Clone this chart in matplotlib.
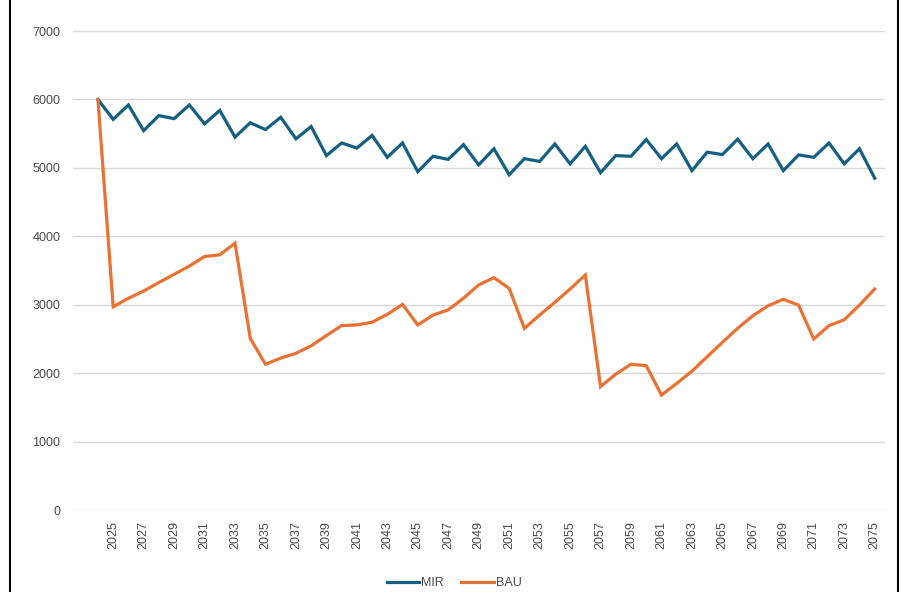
import numpy as np
import matplotlib.pyplot as plt
from matplotlib.lines import Line2D

years = np.arange(2024, 2076)

mir = [6000, 5710, 5920, 5545, 5765, 5720, 5920, 5645, 5840, 5450,
       5660, 5560, 5740, 5425, 5605, 5180, 5365, 5290, 5475, 5155,
       5365, 4945, 5170, 5125, 5340, 5045, 5280, 4900, 5135, 5095,
       5350, 5060, 5315, 4930, 5180, 5170, 5415, 5135, 5350, 4960,
       5230, 5195, 5420, 5135, 5350, 4960, 5190, 5155, 5365, 5060,
       5280, 4850]

bau = [6000, 2970, 3095, 3200, 3325, 3445, 3565, 3705, 3730, 3900,
       2510, 2130, 2220, 2290, 2400, 2550, 2695, 2705, 2745, 2860,
       3005, 2705, 2850, 2925, 3095, 3290, 3395, 3240, 2655, 2850,
       3035, 3230, 3435, 1805, 1985, 2130, 2110, 1680, 1850, 2030,
       2240, 2450, 2655, 2840, 2985, 3080, 2995, 2500, 2695, 2780,
       2995, 3230]

year_ticks = np.arange(2025, 2076, 2)
value_ticks = np.arange(0, 7001, 1000)

mir_color = '#156082'
bau_color = '#E97132'
text_color = '#4a4a4a'

plt.rcParams['font.family'] = ['Liberation Sans', 'DejaVu Sans']

fig = plt.figure(figsize=(9.03, 5.92), dpi=100)
ax = fig.add_axes([0.0808, 0.1385, 0.899, 0.809])

ax.plot(years, mir, color=mir_color, linewidth=2.3, solid_joinstyle='miter')
ax.plot(years, bau, color=bau_color, linewidth=2.3, solid_joinstyle='miter')

ax.set_xlim(2022.36, 2075.66)
ax.set_ylim(0, 7000)
ax.set_yticks(value_ticks)
ax.set_yticklabels([str(v) for v in value_ticks])
ax.set_xticks(year_ticks)
ax.set_xticklabels([str(y) for y in year_ticks], rotation=90)

ax.grid(axis='y', color='#d9d9d9', linewidth=1.0)
ax.set_axisbelow(True)
for side in ax.spines.values():
    side.set_visible(False)
ax.tick_params(axis='both', length=0, labelsize=9, colors=text_color)
ax.tick_params(axis='y', pad=9)
ax.tick_params(axis='x', pad=8)

handles = [Line2D([], [], color=mir_color, linewidth=2.3),
           Line2D([], [], color=bau_color, linewidth=2.3)]
fig.legend(handles, ['MIR', 'BAU'], loc='center', bbox_to_anchor=(0.503, 0.015),
           ncol=2, frameon=False, fontsize=9, handlelength=2.6,
           handletextpad=0.15, columnspacing=1.4, labelcolor=text_color)

# thin black frame around the figure
for xs, ys in [([0.011, 0.011], [0, 1]), ([0.994, 0.994], [0, 1])]:
    fig.add_artist(Line2D(xs, ys, color='black', linewidth=1.5,
                          transform=fig.transFigure))

fig.savefig('out.png', dpi=100)
